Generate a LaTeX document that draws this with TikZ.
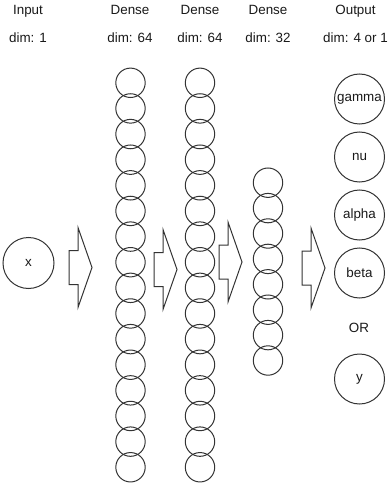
\documentclass[tikz,border=0pt]{standalone}
\usepackage{fontspec}
\setmainfont{Liberation Sans}
\newcommand\blockarrow[3]{%
  \draw[arrowshape] (#2,{#3-17}) -- ({#2+9},{#3-17}) -- ({#2+9},{#3-40}) -- ({#2+23},#3)
    -- ({#2+9},{#3+40}) -- ({#2+9},{#3+17}) -- (#2,{#3+17}) -- cycle;
  \coordinate (#1) at ({#2+11},#3);}
\begin{document}
\begin{tikzpicture}[x=1bp,y=-1bp,
  every node/.style={font=\fontsize{13.4bp}{15bp}\selectfont, text=black!90},
  lbl/.style={anchor=base},
  neuron/.style={circle, draw=black!80, line width=1bp, minimum size=29.4bp, inner sep=0pt},
  outc/.style={circle, draw=black!80, line width=1bp, minimum size=50bp, inner sep=0pt},
  arrowshape/.style={draw=black!80, line width=1bp, line join=miter}]
\useasboundingbox (0,0) rectangle (388,485);
% headers
\node[lbl] (h0) at (28,14.5) {Input};
\node[lbl] (d0) at (28,43) {dim: 1};
\node[lbl] (h1) at (130,14.5) {Dense};
\node[lbl] (d1) at (130,43) {dim: 64};
\node[lbl] (h2) at (200,14.5) {Dense};
\node[lbl] (d2) at (200,43) {dim: 64};
\node[lbl] (h3) at (268,14.5) {Dense};
\node[lbl] (d3) at (268,43) {dim: 32};
\node[lbl] (h4) at (355.5,14.5) {Output};
\node[lbl] (d4) at (355.5,43) {dim: 4 or 1};
% input
\node[outc, minimum size=51bp] (x) at (28.5,263) {x};
% dense layers
\foreach \i in {0,...,15} {
  \node[neuron] (a\i) at (130.5,{82.8+\i*25.63}) {};
  \node[neuron] (b\i) at (200,{82.8+\i*25.63}) {};
}
\foreach \i in {0,...,7} {
  \node[neuron] (c\i) at (268,{182.7+\i*25.4}) {};
}
% output
\node[outc] (gamma) at (359.5,99) {gamma};
\node[outc] (nu) at (359.5,157) {nu};
\node[outc] (alpha) at (359.5,215) {alpha};
\node[outc] (beta) at (359.5,273) {beta};
\node (or) at (359,328) {OR};
\node[outc] (y) at (359.5,379) {y};
% block arrows
\blockarrow{ar1}{69}{267.5}
\blockarrow{ar2}{154}{269.5}
\blockarrow{ar3}{219}{262}
\blockarrow{ar4}{302}{268}
\end{tikzpicture}
\end{document}
